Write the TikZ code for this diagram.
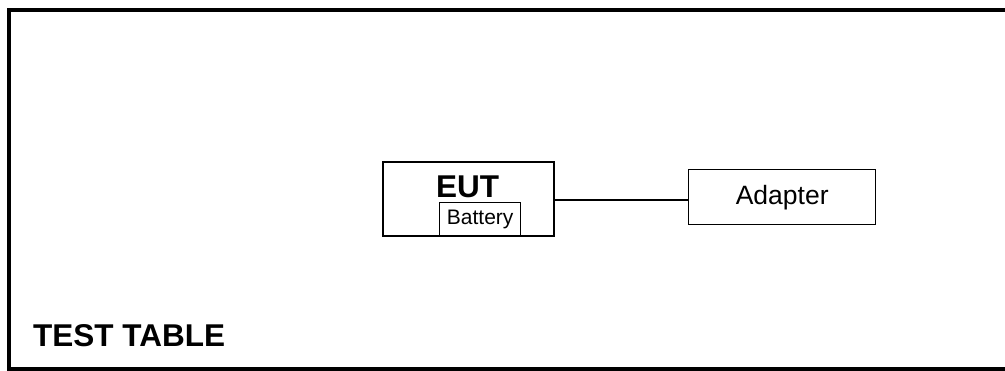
\documentclass[tikz,border=0pt]{standalone}
\usepackage{fontspec}
\setmainfont{Liberation Sans}
\usetikzlibrary{positioning,calc}

\begin{document}
\begin{tikzpicture}[
  x=1pt, y=-1pt,
  % Node styles
  unit/.style={draw, line width=2pt, inner sep=0pt, anchor=north west},
  part/.style={draw, line width=1.4pt, inner sep=0pt, anchor=north west,
               font=\fontsize{21}{23}\selectfont},
  dev/.style={draw, line width=1.4pt, inner sep=0pt, anchor=north west,
              font=\fontsize{26.5}{28}\selectfont},
  % Line styles
  cable/.style={line width=1.2pt},
  frame/.style={line width=4pt},
  % Label style
  big/.style={font=\fontsize{31.5}{34}\selectfont\bfseries, inner sep=0pt},
]
\useasboundingbox (0,0) rectangle (1005,371);

% === Test table frame (open on the right) ===
\draw[frame] (1020,10) -- (9,10) -- (9,369) -- (1020,369);
\node[big, anchor=base west] (table) at (33,347) {TEST TABLE};

% === Equipment under test ===
\node[unit, minimum width=171pt, minimum height=74pt] (EUT) at (382,161) {};
\node[big, anchor=base] (EUTlbl) at (467.5,198) {EUT};
\node[part, minimum width=81pt, minimum height=33pt] (BAT) at (439,202) {Battery};

% === Adapter ===
\node[dev, minimum width=187pt, minimum height=55pt] (ADP) at (688,169) {Adapter};

% === Cable ===
\coordinate (plug) at ([yshift=-1pt]EUT.east);
\draw[cable] (plug) -- (plug -| ADP.west);

\end{tikzpicture}
\end{document}
